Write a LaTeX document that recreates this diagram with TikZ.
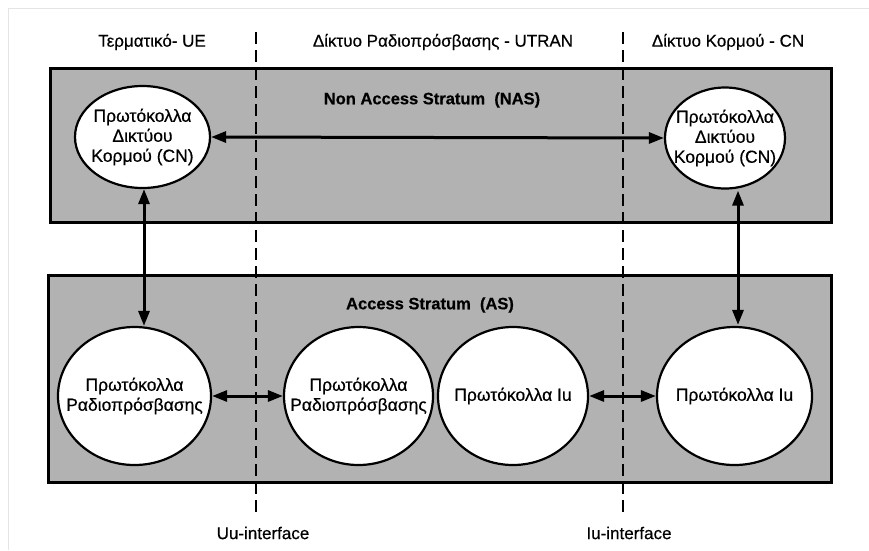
\documentclass[tikz,border=0pt]{standalone}
\usepackage{fontspec}
\setmainfont{Liberation Sans}[FakeBold=0.5]
\usetikzlibrary{arrows.meta,shapes.geometric}
\definecolor{stratum}{RGB}{178,178,178}
\definecolor{scanedge}{RGB}{228,228,228}
\begin{document}
\begin{tikzpicture}[x=1pt,y=-1pt,
  stratumbox/.style={draw=black,line width=3pt,fill=stratum},
  proto/.style={ellipse,draw=black,line width=2.2pt,fill=white,inner sep=0pt},
  prototext/.style={align=center,inner sep=0pt,font=\fontsize{17.5}{20}\selectfont},
  link/.style={line width=3pt,{Triangle[length=15pt,width=11pt]}-{Triangle[length=15pt,width=11pt]}},
  iface/.style={line width=2.2pt,dash pattern=on 12pt off 6pt},
  region/.style={font=\fontsize{17}{20}\selectfont},
  stratumlabel/.style={font=\bfseries\fontsize{16.5}{20}\selectfont}]
\useasboundingbox (0,0) rectangle (869,550);
\fill[white] (0,0) rectangle (869,550);
\draw[scanedge,line width=1pt] (8,550) -- (8,8) -- (869,8);

% the two strata
\node[stratumbox,minimum width=781pt,minimum height=154pt,inner sep=0pt] (nas) at (440.5,145) {};
\node[stratumbox,minimum width=783pt,minimum height=207pt,inner sep=0pt] (as) at (439.5,378.5) {};
\node[stratumlabel] (naslbl) at (432,100) {Non Access Stratum\ \ (NAS)};
\node[stratumlabel] (aslbl) at (430,305) {Access Stratum\ \ (AS)};

% interface boundaries
\coordinate (uutop) at (256,32);
\coordinate (uubot) at (256,513);
\coordinate (iutop) at (623,32);
\coordinate (iubot) at (623,513);
\draw[iface] (uutop) -- (uubot);
\draw[iface] (iutop) -- (iubot);

% region headings and interface names
\node[region] (ue) at (152,42) {Τερματικό- UE};
\node[region] (utran) at (443,42) {Δίκτυο Ραδιοπρόσβασης - UTRAN};
\node[region] (cn) at (728,42) {Δίκτυο Κορμού - CN};
\node[region] (uu) at (263,533) {Uu-interface};
\node[region] (iu) at (629,533) {Iu-interface};

% protocol entities (fixed-size ellipses, text set on top)
\node[proto,minimum width=135pt,minimum height=102pt] (cn1) at (142.5,137) {};
\node[proto,minimum width=120pt,minimum height=101pt] (cn2) at (725,138) {};
\node[proto,minimum width=153pt,minimum height=138pt] (rp1) at (134.5,396) {};
\node[proto,minimum width=149pt,minimum height=138pt] (rp2) at (358.5,396) {};
\node[proto,minimum width=150pt,minimum height=138pt] (iu1) at (513,396) {};
\node[proto,minimum width=155pt,minimum height=138pt] (iu2) at (734.5,396) {};
\node[prototext] (cn1t) at (cn1) {Πρωτόκολλα\\Δικτύου\\Κορμού (CN)};
\node[prototext] (cn2t) at (cn2) {Πρωτόκολλα\\Δικτύου\\Κορμού (CN)};
\node[prototext] (rp1t) at (rp1) {Πρωτόκολλα\\Ραδιοπρόσβασης};
\node[prototext] (rp2t) at (rp2) {Πρωτόκολλα\\Ραδιοπρόσβασης};
\node[prototext] (iu1t) at (iu1) {Πρωτόκολλα Iu};
\node[prototext] (iu2t) at (iu2) {Πρωτόκολλα Iu};

% peer-to-peer links
\draw[link] (cn1.east) -- (cn2.west);
\draw[link] (rp1.east) -- (rp2.west);
\draw[link] (iu1.east) -- (iu2.west);
\coordinate (lx) at (144,0);
\coordinate (rx) at (738,0);
\draw[link] (lx |- cn1.south) -- (lx |- rp1.north);
\draw[link] ([yshift=-1pt]rx |- cn2.south) -- ([yshift=1pt]rx |- iu2.north);
\end{tikzpicture}
\end{document}
